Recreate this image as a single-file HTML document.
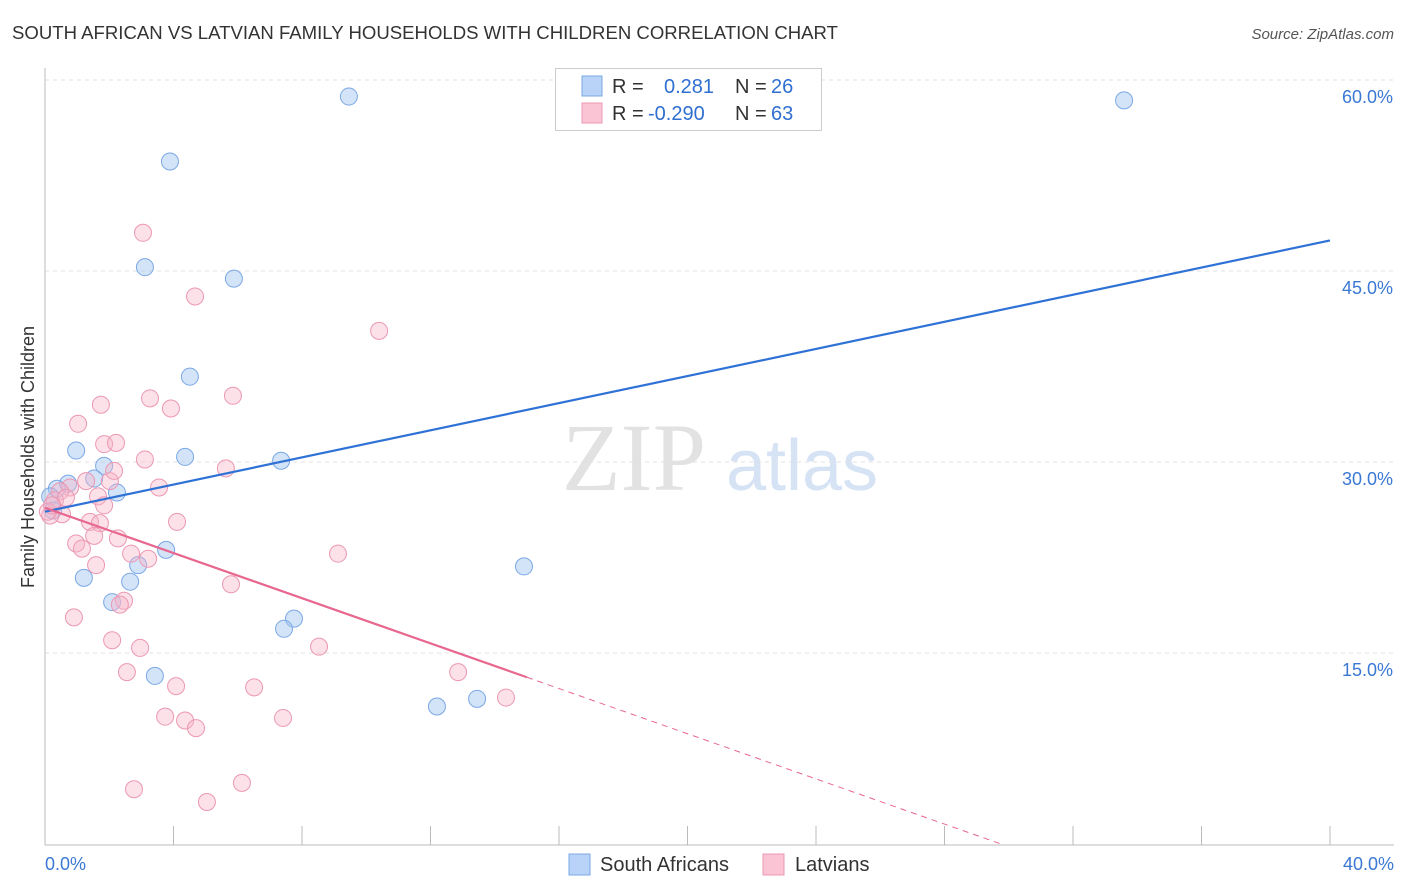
<!DOCTYPE html>
<html><head><meta charset="utf-8"><style>
body{margin:0;background:#fff;font-family:"Liberation Sans",sans-serif;}
#wrap{position:relative;width:1406px;height:892px;overflow:hidden;}
</style></head><body>
<div id="wrap">
<svg id="svg" width="1406" height="892">
<text x="12" y="39" font-size="18" fill="#333" textLength="826" lengthAdjust="spacingAndGlyphs">SOUTH AFRICAN VS LATVIAN FAMILY HOUSEHOLDS WITH CHILDREN CORRELATION CHART</text>
<text x="1394" y="39" font-size="15" fill="#555" font-style="italic" text-anchor="end">Source: ZipAtlas.com</text>
<text x="634" y="490" font-size="96" fill="#e2e2e2" font-family="Liberation Serif" text-anchor="middle">ZIP</text>
<text x="802" y="490" font-size="72" fill="#d6e3f5" text-anchor="middle">atlas</text>
<text transform="translate(34,457) rotate(-90)" font-size="18" fill="#333" text-anchor="middle">Family Households with Children</text>
<g id="grid"></g><g id="marks"></g>
<g>
<rect x="555.5" y="68.5" width="266" height="62" fill="#fff" stroke="#ccc"/>
<rect x="582" y="76" width="20" height="20" fill="#b8d3f7" stroke="#7aa8e6"/>
<rect x="582" y="103" width="20" height="20" fill="#fac4d4" stroke="#ec98b3"/>
<text x="612" y="93" font-size="20" fill="#333">R = </text><text x="664" y="93" font-size="20" fill="#2f6fd0">0.281</text>
<text x="735" y="93" font-size="20" fill="#333">N = </text><text x="771" y="93" font-size="20" fill="#2f6fd0">26</text>
<text x="612" y="120" font-size="20" fill="#333">R = </text><text x="648" y="120" font-size="20" fill="#2f6fd0">-0.290</text>
<text x="735" y="120" font-size="20" fill="#333">N = </text><text x="771" y="120" font-size="20" fill="#2f6fd0">63</text>
</g>
<g>
<rect x="569" y="854" width="21" height="21" fill="#b8d3f7" stroke="#7aa8e6"/>
<text x="600" y="871" font-size="20" fill="#333">South Africans</text>
<rect x="763" y="854" width="21" height="21" fill="#fac4d4" stroke="#ec98b3"/>
<text x="795" y="871" font-size="20" fill="#333">Latvians</text>
</g>
</svg>
</div>
<script>
const xTicks=[0,4,8,12,16,20,24,28,32,36,40];
const yTicks=[15,30,45,60];
const yTickLabels=["15.0%","30.0%","45.0%","60.0%"];
const xEndLabels=["0.0%","40.0%"];
const saX=[9.46,33.59,3.89,3.11,5.88,4.51,4.36,7.35,0.97,1.84,1.53,2.24,0.72,0.37,0.16,0.25,3.77,2.90,1.21,2.65,2.09,7.75,7.44,3.42,14.91,12.20,13.45];
const saY=[58.7,58.4,53.6,45.3,44.4,36.7,30.4,30.1,30.9,29.7,28.7,27.6,28.3,27.9,27.3,26.2,23.1,21.9,20.9,20.6,19.0,17.7,16.9,13.2,21.8,10.8,11.4];
const lvX=[3.05,4.67,10.40,1.74,3.92,3.27,5.85,1.03,1.84,2.21,3.11,5.63,3.55,2.02,1.28,0.78,1.65,1.84,0.47,0.31,0.53,0.16,1.40,1.71,4.11,2.27,1.53,0.97,1.15,2.68,3.21,1.59,9.12,5.79,2.46,2.33,0.90,2.09,8.53,2.96,2.55,4.08,6.51,12.86,3.74,4.36,4.70,7.41,14.35,2.77,6.13,5.04,2.15,0.65,0.09,0.22];
const lvY=[48.0,43.0,40.3,34.5,34.2,35.0,35.2,33.0,31.4,31.5,30.2,29.5,28.0,28.5,28.5,28.0,27.3,26.6,27.7,27.0,25.9,25.8,25.3,25.2,25.3,24.0,24.2,23.6,23.2,22.8,22.4,21.9,22.8,20.4,19.1,18.8,17.8,16.0,15.5,15.4,13.5,12.4,12.3,13.5,10.0,9.7,9.1,9.9,11.5,4.3,4.8,3.3,29.3,27.2,26.1,26.6];
const saTrend=[26.1,47.4];
const lvTrend=[26.4,-0.887];
const NS="http://www.w3.org/2000/svg";
const X=v=>45+v/40*1285, Y=v=>844-v/15*191;
function mk(t,a,p){const e=document.createElementNS(NS,t);for(const k in a)e.setAttribute(k,a[k]);p.appendChild(e);return e;}
const grid=document.getElementById('grid'),marks=document.getElementById('marks');
yTicks.forEach((t,i)=>{
 const l=mk('line',{x1:45,x2:1394,y1:Y(t),y2:Y(t),stroke:'#e2e2e2','stroke-dasharray':'4,4'},grid);
 
 
 const tx=mk('text',{x:1393,y:Y(t)+23,'font-size':18,fill:'#3a78d4','text-anchor':'end'},grid);
 tx.textContent=yTickLabels[i];
 
 
});
const ax=mk('line',{x1:45,x2:1394,y1:845,y2:845,stroke:'#bbb'},grid);


const ay=mk('line',{x1:45,x2:45,y1:68,y2:845,stroke:'#bbb'},grid);


xTicks.forEach(t=>{const l=mk('line',{x1:X(t),x2:X(t),y1:826,y2:845,stroke:'#bbb'},grid);
 
 });
[[0,'start',45],[40,'end',1394]].forEach((d,i)=>{const tx=mk('text',{x:d[2],y:870,'font-size':18,fill:'#3a78d4','text-anchor':d[1]},grid);tx.textContent=xEndLabels[i];
 
 });
saX.forEach((x,i)=>{const c=mk('circle',{cx:X(x),cy:Y(saY[i]),r:8.5,fill:'rgba(160,196,240,0.45)',stroke:'#7aa8e6','stroke-width':1},marks);
 
 });
lvX.forEach((x,i)=>{const c=mk('circle',{cx:X(x),cy:Y(lvY[i]),r:8.5,fill:'rgba(248,180,200,0.4)',stroke:'#ec98b3','stroke-width':1},marks);
 
 });
const bl=mk('line',{x1:X(0),y1:Y(saTrend[0]),x2:X(40),y2:Y(saTrend[1]),stroke:'#2f72d6','stroke-width':2.2},marks);


const pf=x=>lvTrend[0]+lvTrend[1]*x, xz=-lvTrend[0]/lvTrend[1];
const pl=mk('line',{x1:X(0),y1:Y(pf(0)),x2:X(15),y2:Y(pf(15)),stroke:'#e8678f','stroke-width':2.2},marks);


const pd=mk('line',{x1:X(15),y1:Y(pf(15)),x2:X(xz),y2:Y(0),stroke:'#e8678f','stroke-width':1,'stroke-dasharray':'6,5'},marks);


</script>
</body></html>
